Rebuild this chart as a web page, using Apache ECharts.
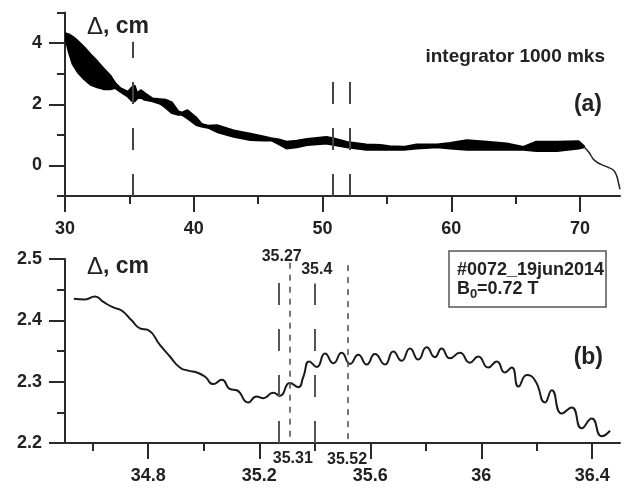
<!DOCTYPE html>
<html>
<head>
<meta charset="utf-8">
<script src="https://cdn.jsdelivr.net/npm/echarts@6/dist/echarts.min.js"></script>
<style>html,body{margin:0;padding:0;background:#fff}#c{width:626px;height:488px}</style>
</head>
<body>
<div id="c"></div>
<script>
// ---- panel (a): envelope of the signal ----
const topX = [30.0,30.3,30.6,31.0,31.5,32.0,32.5,33.0,33.5,33.9,34.3,34.9,35.2,35.4,35.6,35.9,36.2,36.8,37.4,37.8,38.3,38.8,39.1,39.5,40.2,40.6,41.1,41.8,43.1,44.4,45.4,46.0,46.6,47.2,48.0,48.8,50.3,50.8,51.9,53.4,54.5,55.2,56.3,57.3,58.9,59.9,61.2,62.75,64.3,65.6,66.6,68.2,69.9,70.3];
const topUpper = [4.32,4.28,4.2,4.06,3.85,3.62,3.4,3.16,2.94,2.68,2.52,2.4,2.55,2.6,2.35,2.45,2.35,2.18,2.16,2.14,2.05,1.76,1.72,1.8,1.55,1.35,1.29,1.31,1.14,1.03,0.94,0.88,0.84,0.77,0.8,0.86,0.92,0.88,0.76,0.68,0.66,0.62,0.6,0.68,0.68,0.73,0.82,0.77,0.71,0.6,0.77,0.77,0.78,0.62];
const topLower = [4.25,3.72,3.32,3.05,2.82,2.64,2.56,2.5,2.5,2.54,2.42,2.25,2.12,2.1,2.2,2.22,2.15,2.1,2.02,1.9,1.72,1.66,1.66,1.55,1.33,1.28,1.24,1.1,0.94,0.84,0.82,0.83,0.7,0.56,0.6,0.67,0.72,0.68,0.6,0.52,0.52,0.52,0.52,0.56,0.6,0.56,0.52,0.52,0.52,0.52,0.48,0.48,0.56,0.6];
const tailX = [70.3,70.7,71.0,71.3,71.7,72.1,72.6,72.85,73.0,73.1];
const tailY = [0.61,0.42,0.22,0.11,0.02,-0.05,-0.16,-0.35,-0.6,-0.78];
const topMarkX = [35.3, 50.8, 52.1];
const topMarkTop = [4.04, 2.8, 2.8];
const topXMajor = [30,40,50,60,70];
const topXMinor = [35,45,55,65];
const topYMajor = [0,2,4];
const topYMinor = [-1,1,3,5];

// ---- panel (b): zoomed signal ----
const botX = [34.532,34.572,34.608,34.638,34.674,34.704,34.74,34.77,34.80,34.842,34.878,34.914,34.944,34.975,35.005,35.034,35.065,35.095,35.119,35.16,35.19,35.215,35.25,35.275,35.31,35.34,35.359,35.38,35.407,35.437,35.467,35.497,35.527,35.557,35.587,35.617,35.653,35.683,35.713,35.743,35.773,35.803,35.833,35.857,35.887,35.923,35.959,35.989,36.025,36.056,36.085,36.11,36.134,36.164,36.194,36.23,36.254,36.29,36.326,36.362,36.398,36.434,36.464];
const botY = [2.435,2.434,2.439,2.43,2.421,2.416,2.40,2.387,2.384,2.36,2.341,2.323,2.318,2.315,2.308,2.296,2.303,2.288,2.286,2.266,2.276,2.273,2.282,2.277,2.298,2.291,2.308,2.333,2.324,2.346,2.33,2.347,2.329,2.344,2.328,2.345,2.328,2.349,2.334,2.354,2.336,2.356,2.34,2.354,2.338,2.347,2.331,2.341,2.323,2.333,2.315,2.323,2.292,2.311,2.302,2.266,2.286,2.248,2.258,2.224,2.24,2.211,2.22];
const botLongX = [35.27, 35.4];
const botLongTop = [2.463, 2.46];
const botShortX = [35.31, 35.52];
const botShortTop = [2.494, 2.49];
const botLabelsAbove = ['35.27', '35.4'];
const botLabelsBelow = ['35.31', '35.52'];
const botXMajor = [34.8,35.2,35.6,36,36.4];
const botXMinor = [34.6,35.0,35.4,35.8,36.2];
const botYMajor = [2.2,2.3,2.4,2.5];
const botYMinor = [2.25,2.35,2.45];

const FONT = '"Liberation Sans", Arial, sans-serif';
const AX = '#2a2a2a';
const chart = echarts.init(document.getElementById('c'), null, {renderer:'canvas'});

function mainAxis(grid, min, max, ticks, fmt, isY) {
  return {
    type:'value', gridIndex:grid, min:min, max:max, position: isY?'left':'bottom',
    axisLine:{show:true, onZero:false, lineStyle:{color:AX, width:2}},
    axisTick:{show:true, length:16, customValues:ticks, lineStyle:{color:AX, width:2}},
    axisLabel:{show:true, customValues:ticks, margin: isY?23:24, color:'#222',
      fontFamily:FONT, fontWeight:'bold', fontSize:18, formatter:fmt},
    splitLine:{show:false}
  };
}
function minorAxis(grid, min, max, ticks, isY) {
  return {
    type:'value', gridIndex:grid, min:min, max:max, position: isY?'left':'bottom', offset:0,
    axisLine:{show:false, onZero:false},
    axisTick:{show:true, length:8, customValues:ticks, lineStyle:{color:AX, width:2}},
    axisLabel:{show:false}, splitLine:{show:false}
  };
}

const topLines = topMarkX.map((x,i)=>[{coord:[x,-1]},{coord:[x,topMarkTop[i]]}]);
const longLines = botLongX.map((x,i)=>[{coord:[x,2.2], lineStyle:{type:[22,24], width:2, color:'#555'}},{coord:[x,botLongTop[i]]}]);
const shortLines = botShortX.map((x,i)=>[{coord:[x,botShortTop[i]], lineStyle:{type:[6,6], width:1.6, color:'#555'}},{coord:[x,2.2]}]);

function renderBand(params, api) {
  if (params.dataIndex !== 0) return null;
  const pts = [];
  for (let i = 0; i < topX.length; i++) pts.push(api.coord([topX[i], topUpper[i]]));
  for (let i = topX.length - 1; i >= 0; i--) pts.push(api.coord([topX[i], topLower[i]]));
  return {type:'polygon', shape:{points:pts}, style:{fill:'#000', stroke:'#000', lineWidth:2.4, lineJoin:'round'}};
}

chart.setOption({
  animation:false,
  backgroundColor:'#fff',
  grid:[
    {left:65, right:6, top:12.5, height:183.5},
    {left:65, right:6, top:259, height:184}
  ],
  xAxis:[
    mainAxis(0, 30, 73.1, topXMajor, v=>String(v), false),
    minorAxis(0, 30, 73.1, topXMinor, false),
    mainAxis(1, 34.5, 36.5, botXMajor, v=>String(+v.toFixed(2)), false),
    minorAxis(1, 34.5, 36.5, botXMinor, false)
  ],
  yAxis:[
    mainAxis(0, -1, 5, topYMajor, v=>String(v), true),
    minorAxis(0, -1, 5, topYMinor, true),
    mainAxis(1, 2.2, 2.5, botYMajor, v=>v.toFixed(1), true),
    minorAxis(1, 2.2, 2.5, botYMinor, true)
  ],
  series:[
    {type:'custom', xAxisIndex:0, yAxisIndex:0, clip:true,
      data:topX.map((x,i)=>[x, topLower[i], topUpper[i]]), encode:{x:0, y:[1,2]},
      renderItem:renderBand},
    {type:'line', xAxisIndex:0, yAxisIndex:0, data:tailX.map((x,i)=>[x,tailY[i]]), showSymbol:false, smooth:0.4,
      lineStyle:{color:'#222', width:1.5}, z:3,
      markLine:{silent:true, symbol:['none','none'], label:{show:false},
        lineStyle:{type:[22,24], width:2, color:'#444'}, data:topLines}},
    {type:'line', xAxisIndex:2, yAxisIndex:2, data:botX.map((x,i)=>[x,botY[i]]), showSymbol:false, smooth:0.55,
      lineStyle:{color:'#1a1a1a', width:2},
      markLine:{silent:true, symbol:['none','none'], label:{show:false}, data:longLines.concat(shortLines)}}
  ]
});

// annotations
const g = [];
function txt(x,y,s,size,align,extra){
  g.push({type:'text', x:x, y:y, silent:true, style:Object.assign({text:s, fill:'#222', font:'bold '+size+'px '+FONT, textAlign:align||'left', textVerticalAlign:'middle'}, extra||{})});
}
function delta(x,y){
  g.push({type:'text', x:x, y:y, silent:true, style:{text:'{d|Δ}{b|, cm}', textVerticalAlign:'middle',
    rich:{d:{font:'24px '+FONT, fill:'#222'}, b:{font:'bold 23px '+FONT, fill:'#222'}}}});
}
delta(87,27);
delta(87,267);
txt(605,57,'integrator 1000 mks',19,'right');
txt(602,105,'(a)',23,'right');
txt(603,358,'(b)',23,'right');
g.push({type:'rect', silent:true, shape:{x:449,y:251,width:157,height:56}, style:{fill:'none', stroke:'#555', lineWidth:1.5}});
txt(457,270,'#0072_19jun2014',18,'left');
txt(457,289,'B',18,'left');
txt(470,294,'0',13,'left');
txt(477,289,'=0.72 T',18,'left');
const aboveY = [257, 270], aboveDx = [3, 2];
botLongX.forEach((x,i)=>{
  const px = chart.convertToPixel({xAxisIndex:2}, x);
  txt(px+aboveDx[i], aboveY[i], botLabelsAbove[i], 16, 'center');
});
const belowY = [459, 460], belowDx = [3, -1];
botShortX.forEach((x,i)=>{
  const px = chart.convertToPixel({xAxisIndex:2}, x);
  txt(px+belowDx[i], belowY[i], botLabelsBelow[i], 16, 'center');
});
chart.setOption({graphic:g});
</script>
</body>
</html>
